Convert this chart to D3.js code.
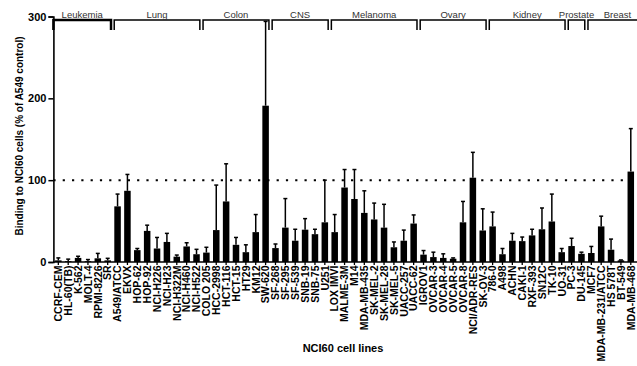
<!DOCTYPE html>
<html>
<head>
<meta charset="utf-8">
<script src="https://cdn.jsdelivr.net/npm/d3@7"></script>
<style>
  body { margin: 0; background: #fff; }
  svg { display: block; font-family: "Liberation Sans", Arial, sans-serif; }
</style>
</head>
<body>
<svg id="chart" width="637" height="366"></svg>
<script>
// cell lines, grouped by tissue
const groups = [
  { name: 'Leukemia', cells: ['CCRF-CEM', 'HL-60(TB)', 'K-562', 'MOLT-4', 'RPMI-8226', 'SR'] },
  { name: 'Lung', cells: ['A549/ATCC', 'EKVX', 'HOP-62', 'HOP-92', 'NCI-H226', 'NCI-H23', 'NCI-H322M', 'NCI-H460', 'NCI-H522'] },
  { name: 'Colon', cells: ['COLO 205', 'HCC-2998', 'HCT-116', 'HCT-15', 'HT29', 'KM12', 'SW-620'] },
  { name: 'CNS', cells: ['SF-268', 'SF-295', 'SF-539', 'SNB-19', 'SNB-75', 'U251'] },
  { name: 'Melanoma', cells: ['LOX IMVI', 'MALME-3M', 'M14', 'MDA-MB-435', 'SK-MEL-2', 'SK-MEL-28', 'SK-MEL-5', 'UACC-257', 'UACC-62'] },
  { name: 'Ovary', cells: ['IGROV1', 'OVCAR-3', 'OVCAR-4', 'OVCAR-5', 'OVCAR-8', 'NCI/ADR-RES', 'SK-OV-3'] },
  { name: 'Kidney', cells: ['786-0', 'A498', 'ACHN', 'CAKI-1', 'RXF-393', 'SN12C', 'TK-10', 'UO-31'] },
  { name: 'Prostate', cells: ['PC-3', 'DU-145'] },
  { name: 'Breast', cells: ['MCF7', 'MDA-MB-231/ATCC', 'HS 578T', 'BT-549', 'MDA-MB-468'] }
];

const cellLines = groups.flatMap(g => g.cells);

// mean binding (% of A549 control)
const means = [
  2, 1, 5, 1, 4.5, 2,
  68, 87, 14.5, 38, 16.5, 24.5, 6.5, 19, 9.5,
  11.5, 39, 74, 21, 12, 36.5, 191,
  17, 42, 26, 39.5, 34, 48.5,
  36.5, 91, 77, 60, 52, 42, 18, 26, 47,
  9, 6, 5, 4, 48.5, 103, 38.5,
  43.5, 9.5, 26, 25.5, 32.5, 40, 49.5, 12,
  19.5, 10,
  11, 43.5, 15, 2, 110.5
];

// upper end of the error bar
const errTops = [
  5, 3.5, 7, 3, 10.5, 4.5,
  83, 107, 16.5, 45, 30, 35, 8.5, 23.5, 15.5,
  18, 94, 120, 30, 21, 58, 294,
  22, 77.5, 40, 53, 40, 100,
  58, 113, 113, 87, 72, 70.5, 24.5, 39, 57.5,
  14, 12, 10, 5, 74, 134, 65,
  61, 16.5, 35, 30.5, 40, 66, 83, 16.5,
  29, 12,
  19, 56, 28, 2.5, 163
];

const yTicks = [0, 100, 200, 300];
const referenceLine = 100;

const data = cellLines.map((c, i) => ({ cell: c, mean: means[i], top: errTops[i] }));

const svg = d3.select('#chart');
const W = 637;
const left = 53.4, step = 9.87, bottom = 262;

const x = d3.scaleBand()
  .domain(cellLines)
  .range([left, left + step * cellLines.length])
  .paddingInner(0.34)
  .paddingOuter(0.17);

const y = d3.scaleLinear().domain([0, 300]).range([bottom, 16.5]);

// dotted 100% line
svg.append('line')
  .attr('x1', left).attr('x2', W)
  .attr('y1', y(referenceLine)).attr('y2', y(referenceLine))
  .attr('stroke', '#000').attr('stroke-width', 2)
  .attr('stroke-dasharray', '2.2,7.1');

// bars
svg.append('g').selectAll('rect')
  .data(data)
  .enter().append('rect')
  .attr('x', d => x(d.cell))
  .attr('width', x.bandwidth())
  .attr('y', d => y(d.mean))
  .attr('height', d => bottom - y(d.mean))
  .attr('fill', '#000');

// error bars (upper half only, lower half hides in the bar)
const cx = d => x(d.cell) + x.bandwidth() / 2;
const eb = svg.append('g').attr('stroke', '#000').attr('stroke-width', 1.5);
eb.selectAll('line.v')
  .data(data)
  .enter().append('line').attr('class', 'v')
  .attr('x1', cx).attr('x2', cx)
  .attr('y1', d => y(d.mean))
  .attr('y2', d => y(d.top));
eb.selectAll('line.cap')
  .data(data)
  .enter().append('line').attr('class', 'cap')
  .attr('x1', d => cx(d) - 2)
  .attr('x2', d => cx(d) + 2)
  .attr('y1', d => y(d.top))
  .attr('y2', d => y(d.top));

// y axis
const yAxis = svg.append('g')
  .attr('transform', `translate(${left},0)`)
  .call(d3.axisLeft(y).tickValues(yTicks).tickSize(5).tickPadding(2));
yAxis.select('.domain').attr('stroke-width', 1.6);
yAxis.selectAll('.tick line').attr('stroke-width', 1.5);
yAxis.selectAll('.tick text')
  .attr('font-size', 11).attr('font-weight', 'bold')
  .attr('font-family', '"Liberation Sans", Arial, sans-serif');

// x axis, the line runs on past the last bar to the edge
const xAxis = svg.append('g')
  .attr('transform', `translate(0,${bottom})`)
  .call(d3.axisBottom(x).tickSize(3).tickSizeOuter(0));
xAxis.select('.domain').attr('d', `M${left},0H${W}`).attr('stroke-width', 1.6);
xAxis.selectAll('.tick line').attr('stroke-width', 1.3);
xAxis.selectAll('.tick text')
  .attr('font-size', 10.5).attr('font-weight', 'bold')
  .attr('font-family', '"Liberation Sans", Arial, sans-serif')
  .attr('text-anchor', 'end')
  .attr('dy', null)
  .attr('transform', 'translate(3.8,3.5) rotate(-90)')
  .attr('x', 0).attr('y', 0);

// group brackets along the top
const bracketY = 20, gap = 1.6;
const br = svg.append('g').attr('fill', 'none').attr('stroke', '#000').attr('stroke-width', 1.5);
groups.forEach((g, i) => {
  const last = i === groups.length - 1;
  const x0 = x(g.cells[0]) - x.step() * x.paddingInner() / 2 + (i === 0 ? 0 : gap);
  // the breast bracket is cut by the picture's edge
  const x1 = last ? W + 10
    : x(g.cells[g.cells.length - 1]) + x.bandwidth() + x.step() * x.paddingInner() / 2 - gap;
  br.append('path')
    .attr('d', `M${x0},${bracketY + 10}V${bracketY}H${x1}V${bracketY + 10}`)
    .attr('stroke-width', i === 0 ? 2.5 : 1.5);
  svg.append('text')
    .attr('x', (x0 + x1) / 2).attr('y', 17.5)
    .attr('text-anchor', 'middle')
    .attr('font-size', 9.5).attr('fill', '#333')
    .text(g.name);
});

// titles
svg.append('text')
  .attr('transform', 'translate(22.5,136) rotate(-90)')
  .attr('text-anchor', 'middle')
  .attr('font-size', 10).attr('font-weight', 'bold')
  .text('Binding to NCI60 cells (% of A549 control)');

svg.append('text')
  .attr('x', 343).attr('y', 352)
  .attr('text-anchor', 'middle')
  .attr('font-size', 11).attr('font-weight', 'bold')
  .text('NCI60 cell lines');
</script>
</body>
</html>
